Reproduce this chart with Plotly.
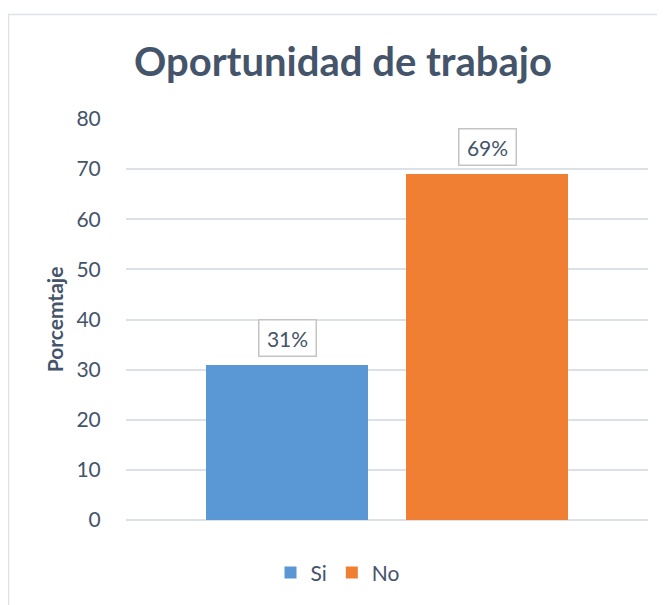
import plotly.graph_objects as go

categories = ["Si", "No"]
values = [31, 69]
labels = ["31%", "69%"]
colors = ["#5A98D5", "#F07E33"]
y_ticks = [0, 10, 20, 30, 40, 50, 60, 70, 80]

# page body adds an 8px offset, so the figure is drawn 8px smaller
W, H = 657, 597
L, R, T, B = 118, 17, 111, 83
pw, ph = W - L - R, H - T - B
FONT = "Lato"
TXT = "#44546A"

fig = go.Figure()
for c, v, col in zip(categories, values, colors):
    fig.add_trace(go.Bar(x=[c], y=[v], name=c, width=0.81,
                         marker=dict(color=col, line=dict(width=0)),
                         hoverinfo="skip"))

for c, v, t in zip(categories, values, labels):
    fig.add_annotation(x=c, y=v, text=t, showarrow=False, yanchor="bottom",
                       yshift=8, font=dict(family=FONT, size=21, color=TXT),
                       bgcolor="white", bordercolor="#C4C4C4", borderwidth=1.5,
                       borderpad=5, width=46, height=25)

# chart frame (left and top edges)
fx0 = (0.5 - L) / pw
fy1 = (H - B - 6) / ph
fig.add_shape(type="path", xref="paper", yref="paper",
              path=f"M {fx0} -1 L {fx0} {fy1} L 1.2 {fy1}",
              line=dict(color="#DDE2E8", width=1.5))

fig.update_layout(
    width=W, height=H,
    margin=dict(l=L, r=R, t=T, b=B),
    paper_bgcolor="white", plot_bgcolor="white",
    font=dict(family=FONT, color=TXT),
    title=dict(text="<b>Oportunidad de trabajo</b>", x=335 / W, xanchor="center",
               y=1 - 54 / H, yanchor="middle",
               font=dict(family=FONT, size=40, color=TXT)),
    showlegend=True,
    legend=dict(orientation="h", x=(330 - L) / pw, xanchor="center",
                y=-(567 - (H - B)) / ph, yanchor="middle",
                font=dict(size=21, color=TXT), itemwidth=30,
                traceorder="normal"),
    bargap=0,
)
fig.update_xaxes(type="category", range=[-0.805, 1.805], showticklabels=False,
                 showgrid=False, zeroline=False, showline=False, fixedrange=True)
fig.update_yaxes(range=[0, 80], tickvals=y_ticks, showgrid=True,
                 gridcolor="#DCE1E7", gridwidth=1.5, zeroline=True,
                 zerolinecolor="#DCE1E7", zerolinewidth=1.5,
                 ticks="outside", ticklen=20, tickcolor="rgba(0,0,0,0)",
                 tickfont=dict(family=FONT, size=21, color=TXT),
                 title=dict(text="<b>Porcemtaje</b>", standoff=7,
                            font=dict(family=FONT, size=21, color=TXT)))

fig.write_html("out.html")
